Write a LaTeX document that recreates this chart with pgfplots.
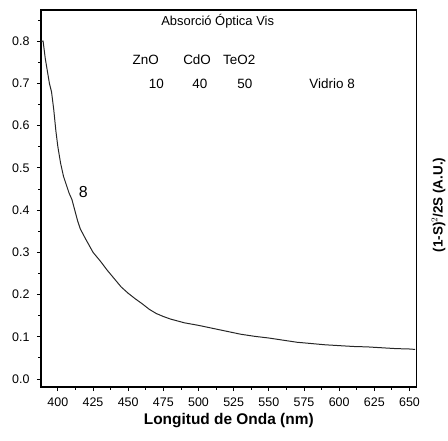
\documentclass[border=0pt]{standalone}
\usepackage{fontspec}
\setmainfont{Liberation Sans}
\usepackage{pgfplots}
\pgfplotsset{compat=1.18}
\begin{document}
\begin{tikzpicture}
\begin{axis}[
  scale only axis,
  width=375.5bp, height=377bp,
  xmin=388, xmax=655, ymin=-0.019, ymax=0.874,
  xtick={400,425,...,650},
  minor xtick={387.5,412.5,...,662.5},
  ytick={0,0.1,...,0.8},
  minor ytick={0.05,0.15,...,0.85},
  /pgf/number format/assume math mode=true,
  tick pos=left,
  tick align=outside,
  major tick length=4bp, minor tick length=2.5bp,
  every tick/.style={black, line width=0.8pt},
  axis line style={line width=1.1pt},
  ticklabel style={font=\fontsize{12.5}{14}\selectfont},
  yticklabel style={xshift=-4bp,/pgf/number format/.cd,fixed,fixed zerofill,precision=1},
  xticklabel style={yshift=-3bp},
  xlabel={\textbf{Longitud de Onda (nm)}},
  xlabel style={font=\fontsize{15.5}{17}\selectfont, yshift=0bp},
  clip=false,
]
\addplot[black!85, line width=1pt] coordinates {
(388,0.80) (389.5,0.80) (391,0.76) (393,0.72) (394,0.70) (395.5,0.68)
(397,0.64) (398.5,0.59) (400,0.55) (402,0.51) (404,0.48) (406,0.46)
(408,0.44) (410,0.425) (412,0.40) (414,0.375) (416,0.355) (420,0.33)
(425,0.30) (430,0.28) (435,0.258) (440,0.238) (445,0.218) (450,0.203)
(455,0.19) (460,0.178) (465,0.165) (470,0.155) (475,0.148) (480,0.142)
(490,0.133) (500,0.127) (510,0.12) (520,0.113) (530,0.106) (540,0.101)
(550,0.097) (560,0.092) (570,0.087) (580,0.084) (590,0.081) (600,0.079)
(610,0.077) (620,0.076) (630,0.074) (640,0.072) (650,0.071) (654,0.070)
};
\node[font=\fontsize{13}{15}\selectfont] at (axis cs:513.6,0.848) {Absorció Óptica Vis};
\node[font=\fontsize{13.5}{15}\selectfont] at (axis cs:462.5,0.756) {ZnO};
\node[font=\fontsize{13.5}{15}\selectfont] at (axis cs:499,0.756) {CdO};
\node[font=\fontsize{13.5}{15}\selectfont] at (axis cs:529,0.756) {TeO2};
\node[font=\fontsize{13.5}{15}\selectfont] at (axis cs:470,0.70) {10};
\node[font=\fontsize{13.5}{15}\selectfont] at (axis cs:501,0.70) {40};
\node[font=\fontsize{13.5}{15}\selectfont] at (axis cs:533,0.70) {50};
\node[font=\fontsize{13.5}{15}\selectfont] at (axis cs:595,0.70) {Vidrio 8};
\node[font=\fontsize{16}{18}\selectfont] at (axis cs:418,0.443) {8};
\coordinate (sw) at (rel axis cs:0,0);
\coordinate (ne) at (rel axis cs:1,1);
\end{axis}
\node[rotate=90, font=\bfseries\fontsize{13.5}{15}\selectfont] at ([xshift=22bp,yshift=-195bp]ne) {(1-S)$^2$/2S (A.U.)};
\pgfresetboundingbox
\path (sw) ++(-41bp,-54bp) coordinate (a);
\path (ne) ++(31.5bp,10bp) coordinate (b);
\path[use as bounding box] (a) rectangle (b);
\end{tikzpicture}
\end{document}
